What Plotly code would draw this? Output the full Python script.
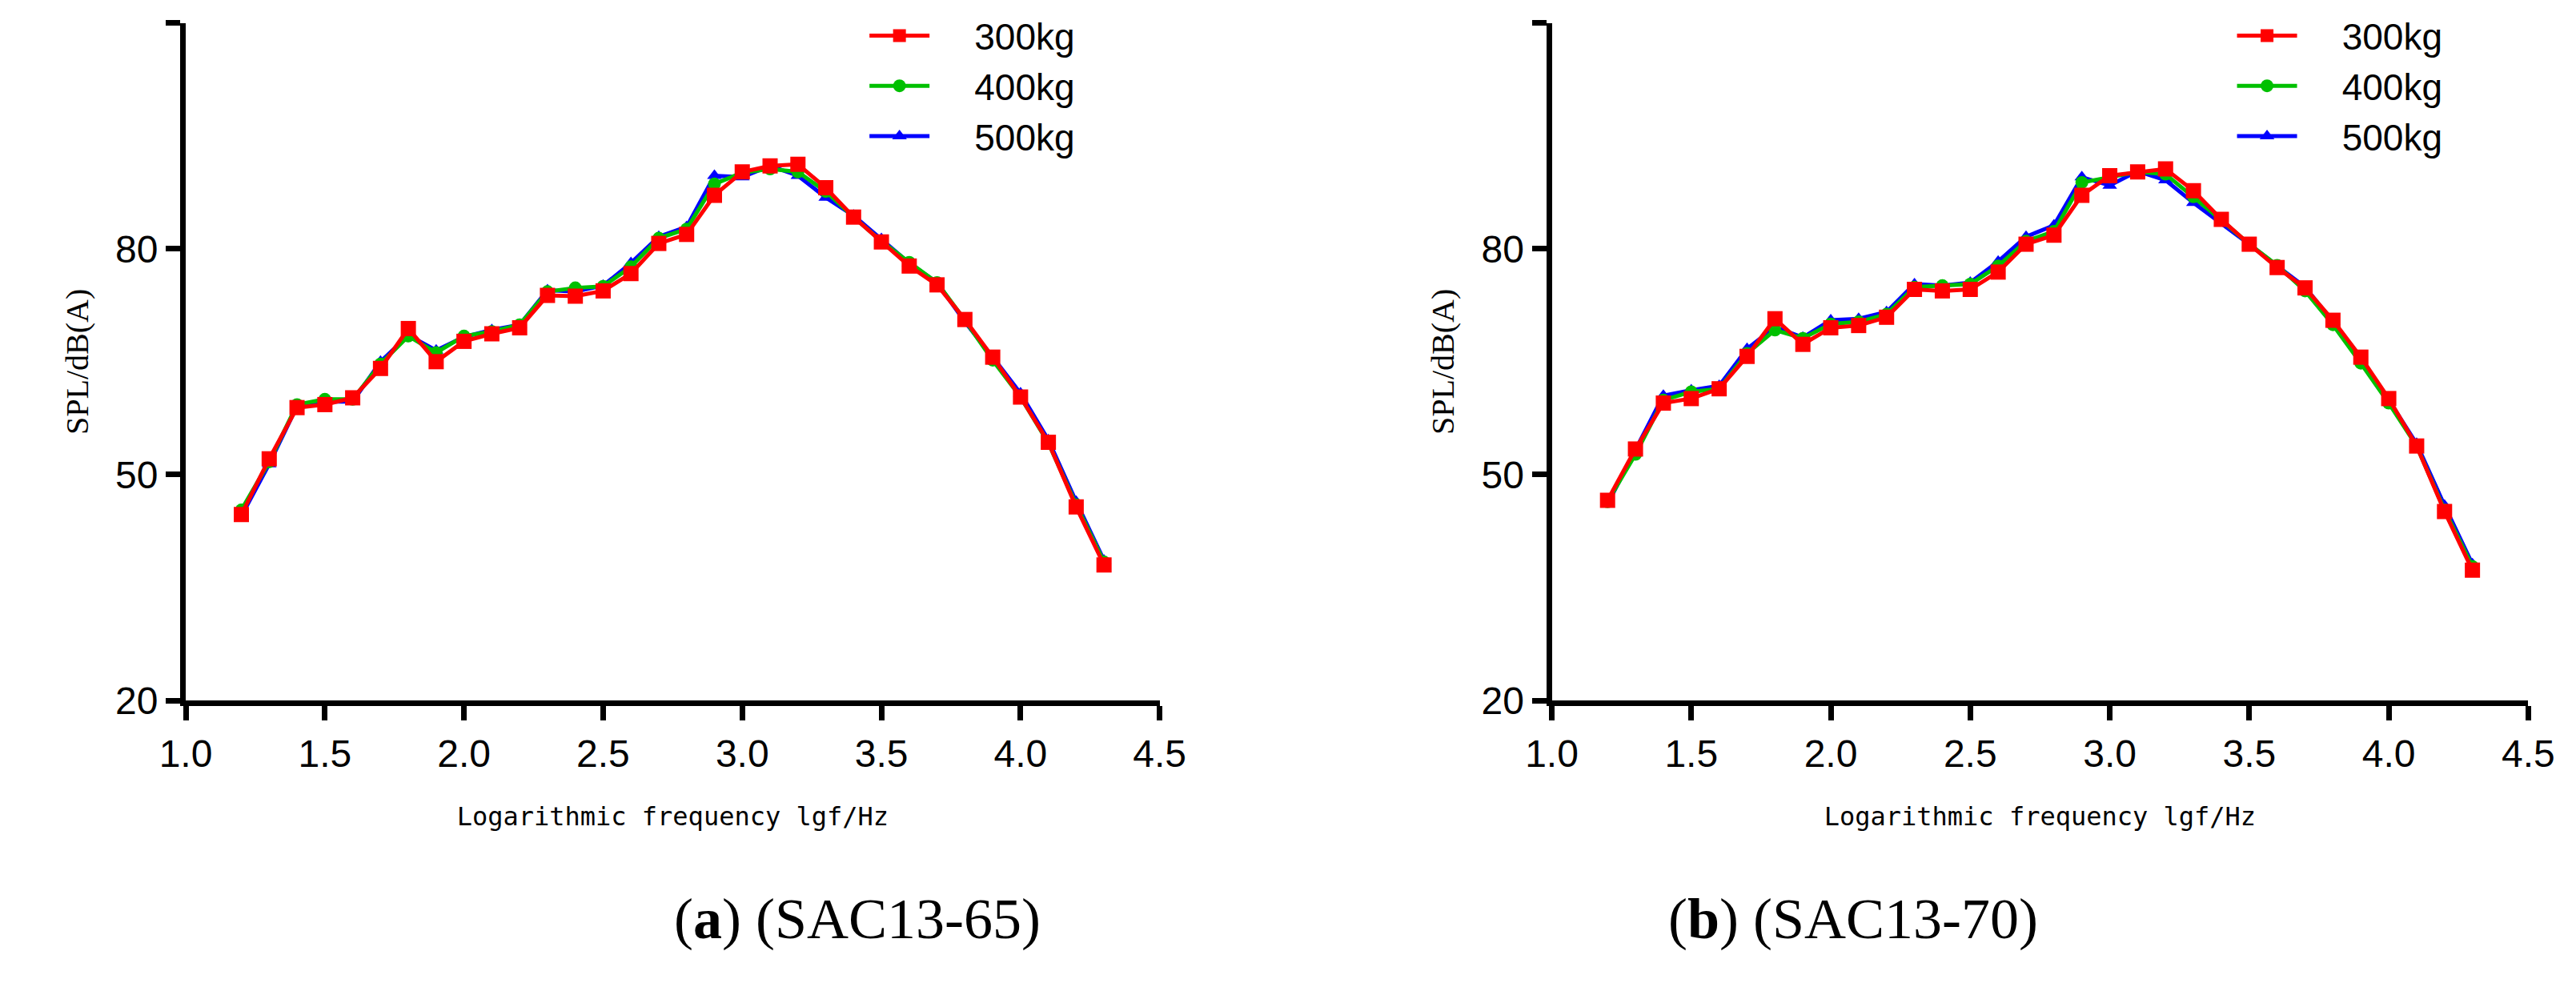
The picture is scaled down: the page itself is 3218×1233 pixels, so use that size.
import plotly.graph_objects as go

freq = [1.2, 1.3, 1.4, 1.5, 1.6, 1.7, 1.8, 1.9, 2.0, 2.1, 2.2, 2.3, 2.4, 2.5, 2.6, 2.7,
        2.8, 2.9, 3.0, 3.1, 3.2, 3.3, 3.4, 3.5, 3.6, 3.7, 3.8, 3.9, 4.0, 4.1, 4.2, 4.3]

# (a) SAC13-65
a_300 = [44.7, 52.1, 58.9, 59.3, 60.2, 64.1, 69.4, 65.0, 67.7, 68.7, 69.5, 73.8, 73.7, 74.4, 76.7, 80.7,
         81.9, 87.1, 90.2, 91.0, 91.2, 88.1, 84.2, 80.9, 77.7, 75.2, 70.6, 65.6, 60.3, 54.3, 45.7, 38.0]
a_400 = [45.3, 51.7, 59.3, 60.0, 60.0, 64.7, 68.4, 66.2, 68.4, 69.0, 69.9, 74.3, 74.8, 75.0, 77.6, 81.4,
         82.6, 88.6, 90.1, 90.6, 90.2, 87.6, 84.2, 81.0, 78.2, 75.5, 70.5, 65.2, 60.3, 54.2, 46.0, 38.4]
a_500 = [44.5, 51.4, 59.1, 59.7, 59.7, 65.0, 68.5, 66.5, 68.3, 69.2, 69.9, 74.5, 74.3, 75.1, 78.1, 81.6,
         82.9, 89.7, 89.5, 91.0, 89.7, 86.8, 84.4, 81.3, 78.1, 75.5, 70.3, 65.6, 60.8, 54.6, 46.4, 38.6]

# (b) SAC13-70
b_300 = [46.6, 53.4, 59.5, 60.1, 61.4, 65.7, 70.7, 67.3, 69.5, 69.8, 70.9, 74.6, 74.4, 74.6, 76.9, 80.6,
         81.8, 87.1, 89.7, 90.2, 90.6, 87.7, 83.9, 80.6, 77.5, 74.8, 70.5, 65.6, 60.1, 53.8, 45.1, 37.3]
b_400 = [46.4, 52.7, 59.9, 61.0, 61.4, 66.1, 69.2, 68.1, 70.0, 70.3, 71.3, 74.9, 75.1, 75.3, 77.7, 81.0,
         82.3, 88.8, 89.5, 90.2, 89.9, 86.9, 83.8, 80.6, 77.8, 74.4, 69.9, 64.8, 59.5, 53.8, 45.3, 37.8]
b_500 = [46.1, 53.2, 60.5, 61.2, 61.8, 66.7, 69.6, 68.2, 70.5, 70.7, 71.6, 75.3, 75.1, 75.5, 78.3, 81.6,
         83.1, 89.5, 88.4, 90.3, 89.1, 86.1, 83.4, 80.6, 77.7, 74.9, 70.3, 65.2, 59.9, 54.1, 45.9, 38.1]

loads = ["300kg", "400kg", "500kg"]
colors = ["#ff0000", "#00c000", "#0000ff"]
symbols = ["square", "circle", "triangle-up"]
panels = [("x", "y", "legend", [a_500, a_400, a_300]),
          ("x2", "y2", "legend2", [b_500, b_400, b_300])]

fig = go.Figure()
for xa, ya, leg, series in panels:
    # draw blue, green, then red on top
    for i in (2, 1, 0):
        fig.add_trace(go.Scatter(
            x=freq, y=series[2 - i], name="    " + loads[i], xaxis=xa, yaxis=ya, legend=leg,
            mode="lines+markers", legendrank=i,
            line=dict(color=colors[i], width=5),
            marker=dict(symbol=symbols[i], size=19 if i == 0 else 16, color=colors[i]),
        ))

tick_font = dict(family="Liberation Sans Narrow, Arial Narrow, sans-serif", size=48, color="black")
ax_common = dict(showline=True, linecolor="black", linewidth=7, ticks="outside",
                 ticklen=18, tickwidth=7, tickcolor="black", showgrid=False, zeroline=False,
                 tickfont=tick_font)
xt = dict(title=dict(text="Logarithmic frequency lgf/Hz",
                     font=dict(family="DejaVu Sans Mono, monospace", size=32, color="black"),
                     standoff=44),
          range=[1.0, 4.5], tickvals=[1.0, 1.5, 2.0, 2.5, 3.0, 3.5, 4.0, 4.5],
          tickformat=".1f", **ax_common)
yt = dict(title=dict(text="SPL/dB(A)",
                     font=dict(family="Liberation Serif, serif", size=40, color="black"),
                     standoff=24),
          range=[20, 110], tickvals=[20, 50, 80, 110], **ax_common)

leg_common = dict(font=dict(family="Liberation Sans Narrow, Arial Narrow, sans-serif", size=46,
                            color="black"),
                  bgcolor="rgba(0,0,0,0)", itemwidth=75, tracegroupgap=10,
                  xanchor="left", yanchor="top", y=1.0, traceorder="normal")

fig.update_layout(
    width=3218, height=1233, margin=dict(l=0, r=0, t=0, b=0),
    plot_bgcolor="white", paper_bgcolor="white",
    xaxis=dict(domain=[0.0606, 0.4466], anchor="y", **xt),
    yaxis=dict(domain=[0.281, 0.983], anchor="x", **yt),
    xaxis2=dict(domain=[0.602, 0.989], anchor="y2", **xt),
    yaxis2=dict(domain=[0.281, 0.983], anchor="x2", **yt),
    legend=dict(x=0.330, **leg_common),
    legend2=dict(x=0.872, **leg_common),
    annotations=[
        dict(text="(<b>a</b>) (SAC13-65)", x=0.2536, y=0.02, xref="paper", yref="paper",
             showarrow=False, font=dict(family="Liberation Serif, serif", size=72, color="black")),
        dict(text="(<b>b</b>) (SAC13-70)", x=0.7955, y=0.02, xref="paper", yref="paper",
             showarrow=False, font=dict(family="Liberation Serif, serif", size=72, color="black")),
    ],
)

fig.write_html("out.html")
